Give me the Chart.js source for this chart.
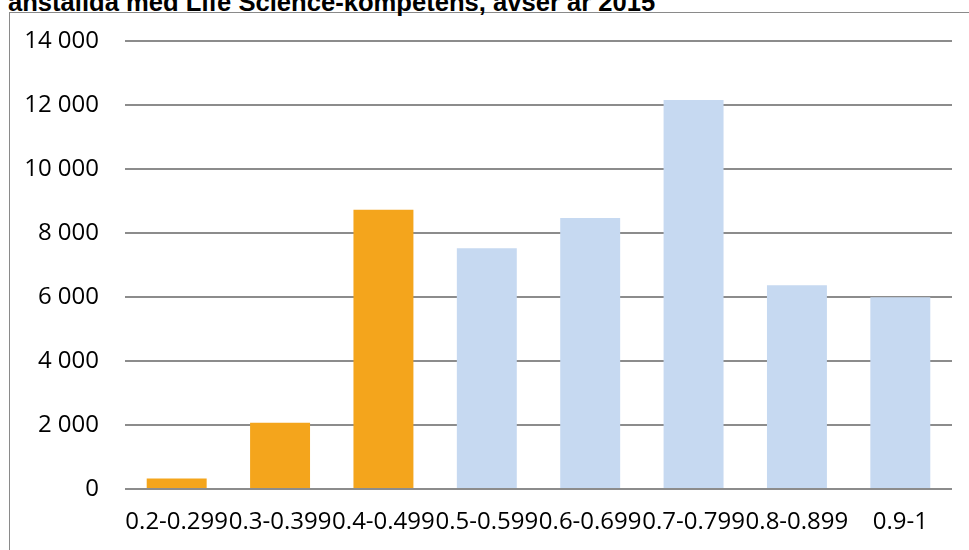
<!DOCTYPE html>
<html>
<head>
<meta charset="utf-8">
<script src="https://cdn.jsdelivr.net/npm/chart.js@4.4.1/dist/chart.umd.min.js"></script>
<style>
  html, body { margin: 0; padding: 0; background: #fff; overflow: hidden; }
  #wrap { position: relative; width: 969px; height: 550px; }
  #frame {
    position: absolute; left: 9px; top: 12px; width: 1000px; height: 600px;
    border-left: 1px solid #8a8a8a; border-top: 1px solid #8a8a8a; box-sizing: border-box;
  }
  #title {
    position: absolute; left: 8px; top: -10px; white-space: nowrap;
    font-family: "Liberation Sans", Arial, sans-serif; font-weight: bold;
    font-size: 25.6px; line-height: 1; color: #000;
  }
  #c { position: absolute; left: 0; top: 0; }
</style>
</head>
<body>
<div id="wrap">
  <div id="frame"></div>
  <div id="title">anställda med Life Science-kompetens, avser år 2015</div>
  <canvas id="c" width="969" height="550"></canvas>
</div>
<script>
// Intervals on the category axis
const categories = ['0.2-0.299', '0.3-0.399', '0.4-0.499', '0.5-0.599', '0.6-0.699', '0.7-0.799', '0.8-0.899', '0.9-1'];
// Number of employees per interval
const employees = [330, 2070, 8730, 7520, 8470, 12160, 6370, 5990];
// First three intervals are highlighted
const highlighted = [true, true, true, false, false, false, false, false];
// Value axis ticks
const yTicks = [0, 2000, 4000, 6000, 8000, 10000, 12000, 14000];

const ORANGE = '#F4A51C';
const LIGHT_BLUE = '#C6D9F1';
const GRID = '#8c8c8c';
const LABEL_FONT = { family: '"Open Sans", sans-serif', size: 24 };

const fmt = v => String(v).replace(/\B(?=(\d{3})+(?!\d))/g, ' ');

new Chart(document.getElementById('c'), {
  type: 'bar',
  data: {
    labels: categories,
    datasets: [{
      data: employees,
      backgroundColor: highlighted.map(h => h ? ORANGE : LIGHT_BLUE),
      borderWidth: 0,
      categoryPercentage: 1,
      barPercentage: 0.58
    }]
  },
  options: {
    responsive: false,
    animation: false,
    devicePixelRatio: 1,
    layout: { padding: { left: 25, right: 17, top: 41, bottom: 0 } },
    plugins: { legend: { display: false }, tooltip: { enabled: false }, title: { display: false } },
    scales: {
      x: {
        grid: { display: false, drawTicks: false },
        border: { display: false },
        ticks: { color: '#000', font: LABEL_FONT, padding: 19, maxRotation: 0, autoSkip: false },
        afterFit: s => { s.height = 61; }
      },
      y: {
        min: 0, max: 14000,
        afterBuildTicks: s => { s.ticks = yTicks.map(v => ({ value: v })); },
        grid: { color: GRID, lineWidth: 2, drawTicks: false },
        border: { display: false },
        ticks: { color: '#000', font: LABEL_FONT, padding: 26, callback: v => fmt(v) },
        afterFit: s => { s.width = 100; }
      }
    }
  }
});
</script>
</body>
</html>
